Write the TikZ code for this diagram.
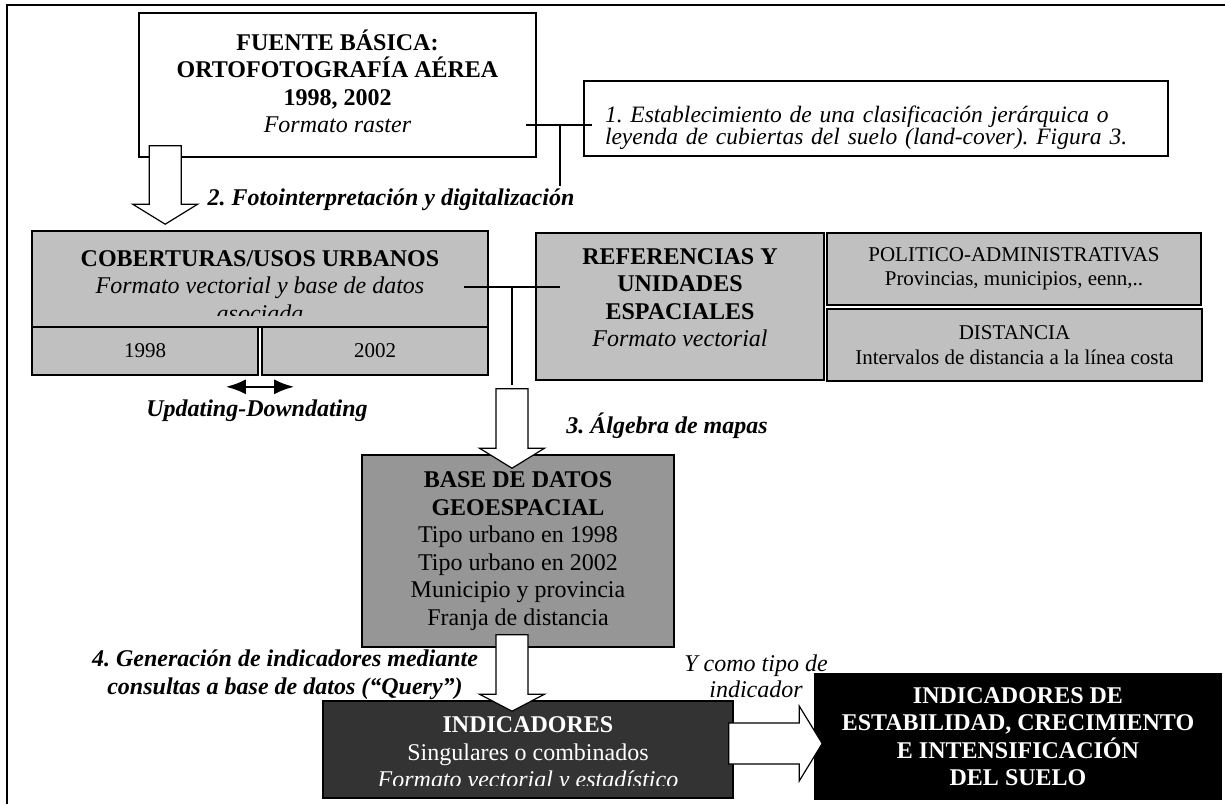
\documentclass[tikz,border=0pt]{standalone}
\usepackage{fontspec}
\setmainfont{Liberation Serif}
\usetikzlibrary{calc,arrows.meta}
\definecolor{grisclaro}{RGB}{192,192,192}
\definecolor{grismedio}{RGB}{150,150,150}
\definecolor{grisoscuro}{RGB}{51,51,51}
\tikzset{
  caja/.style={draw=black, line width=1.6pt, inner sep=0pt, align=center, font=\fontsize{24}{27.5}\selectfont},
  cajachica/.style={caja, fill=grisclaro, font=\fontsize{21}{24.5}\selectfont},
  texto/.style={inner sep=0pt, align=center, font=\fontsize{24}{27.5}\selectfont},
  rotulo/.style={inner sep=0pt, align=center, font=\fontsize{24}{28.5}\selectfont\bfseries\itshape},
  bloque/.style={draw=black, fill=white, line width=1.2pt, line join=miter},
  conector/.style={line width=1.6pt},
  doble/.style={line width=2.5pt, {Latex[length=20pt,width=15pt]}-{Latex[length=20pt,width=15pt]}}
}
\newcommand{\flechabajo}[3][20pt]{\draw[bloque] let \p1=#2, \p2=#3 in
  ({\x1-16pt},\y1) -- ({\x1+16pt},\y1) -- ({\x1+16pt},{\y2+#1}) -- ({\x1+32.5pt},{\y2+#1})
  -- (\x1,\y2) -- ({\x1-32.5pt},{\y2+#1}) -- ({\x1-16pt},{\y2+#1}) -- cycle;}
\newcommand{\flechader}[2]{\draw[bloque] let \p1=#1, \p2=#2 in
  (\x1,{\y1+20.5pt}) -- ({\x2-23pt},{\y1+20.5pt}) -- ({\x2-23pt},{\y1+37.5pt}) -- (\x2,\y1)
  -- ({\x2-23pt},{\y1-37.5pt}) -- ({\x2-23pt},{\y1-20.5pt}) -- (\x1,{\y1-20.5pt}) -- cycle;}
\begin{document}
\frenchspacing
\begin{tikzpicture}[x=1pt,y=-1pt]
  \useasboundingbox (0,0) rectangle (1225,804);
  \draw[line width=1.6pt] (7,804) -- (7,5) -- (1225,5);
  \node[caja, fill=white, minimum width=397pt, minimum height=144pt, text depth=8pt] (fuente) at (337.5,85)
    {\textbf{FUENTE BÁSICA:}\\\textbf{ORTOFOTOGRAFÍA AÉREA}\\\textbf{1998, 2002}\\\textit{Formato raster}};
  \node[caja, fill=white, minimum height=75pt, text width=542pt, inner xsep=21pt, align=left, text depth=9pt,
    font=\fontsize{23.5}{19.5}\selectfont\itshape] (paso1) at (876,118.5)
    {1. Establecimiento de una clasificación jerárquica o\\leyenda de cubiertas del suelo (land-cover). Figura 3.};
  \node[caja, fill=grisclaro, minimum width=456pt, minimum height=96pt] (cobert) at (260,279) {};
  \begin{scope}
    \clip (cobert.north west) rectangle ($(cobert.south east)+(0,-12)$);
    \node[texto] (cobert-t) at (260,286)
      {\textbf{COBERTURAS/USOS URBANOS}\\\textit{Formato vectorial y base de datos}\\\textit{asociada}};
  \end{scope}
  \node[cajachica, minimum width=226pt, minimum height=48pt] (anio1) at (145,351) {1998};
  \node[cajachica, minimum width=226pt, minimum height=48pt] (anio2) at (375,351) {2002};
  \node[caja, fill=grisclaro, minimum width=288pt, minimum height=147pt, text depth=18pt] (ref) at (680,306.5)
    {\textbf{REFERENCIAS Y}\\\textbf{UNIDADES}\\\textbf{ESPACIALES}\\\textit{Formato vectorial}};
  \node[cajachica, minimum width=374pt, minimum height=72pt] (politico) at (1014,269)
    {POLITICO-ADMINISTRATIVAS\\Provincias, municipios, eenn,..};
  \node[cajachica, minimum width=375pt, minimum height=72pt] (distancia) at (1014.5,345)
    {DISTANCIA\\Intervalos de distancia a la línea costa};
  \node[caja, fill=grismedio, minimum width=312pt, minimum height=192pt] (base) at (518,551)
    {\textbf{BASE DE DATOS}\\\textbf{GEOESPACIAL}\\Tipo urbano en 1998\\Tipo urbano en 2002\\Municipio y provincia\\Franja de distancia};
  \node[caja, fill=grisoscuro, minimum width=410pt, minimum height=97pt] (ind) at (528,749.5) {};
  \begin{scope}
    \clip (ind.north west) rectangle ($(ind.south east)+(0,-13)$);
    \node[texto, text=white] (ind-t) at (528,755)
      {\textbf{INDICADORES}\\Singulares o combinados\\\textit{Formato vectorial y estadístico}};
  \end{scope}
  \node[caja, fill=black, text=white, minimum width=406pt, minimum height=125pt] (final) at (1018,736.5)
    {\textbf{INDICADORES DE}\\\textbf{ESTABILIDAD, CRECIMIENTO}\\\textbf{E INTENSIFICACIÓN}\\\textbf{DEL SUELO}};
  \node[rotulo] (paso2) at (391,200) {2. Fotointerpretación y digitalización};
  \node[rotulo] (updown) at (257,411) {Updating-Downdating};
  \node[rotulo] (paso3) at (667,426) {3. Álgebra de mapas};
  \node[rotulo] (paso4) at (285,674.5) {4. Generación de indicadores mediante\\consultas a base de datos (“Query”)};
  \node[texto, font=\fontsize{24}{26}\selectfont\itshape] (tipo) at (756,676) {Y como tipo de\\indicador};
  \coordinate (c1) at (560,125);
  \draw[conector] ($(fuente.east |- c1)+(-11,0)$) -- ($(paso1.west |- c1)+(9,0)$);
  \draw[conector] (c1) -- ($(c1 |- paso2.north)+(0,-3)$);
  \coordinate (c2) at (512,287);
  \draw[conector] ($(cobert.east |- c2)+(-25,0)$) -- ($(ref.west |- c2)+(25,0)$);
  \draw[conector] (c2) -- ($(c2 |- anio2.south)+(0,9)$);
  \draw[doble] ($(anio1.south east)+(-33,11)$) -- ($(anio2.south west)+(33,11)$);
  \coordinate (a1) at ($(fuente.south west)+(27,-12)$);
  \flechabajo{(a1)}{($(a1 |- cobert.north)+(0,-6)$)}
  \coordinate (a2) at ($(c2 |- anio2.south)+(0,13)$);
  \flechabajo{(a2)}{($(a2 |- base.north)+(0,14)$)}
  \coordinate (a3) at ($(base.south)+(-6,-13)$);
  \flechabajo[17pt]{(a3)}{($(a3 |- ind.north)+(0,11)$)}
  \coordinate (a4) at ($(ind.east)+(-5,-6)$);
  \flechader{(a4)}{($(final.west |- a4)+(8,0)$)}
\end{tikzpicture}
\end{document}
